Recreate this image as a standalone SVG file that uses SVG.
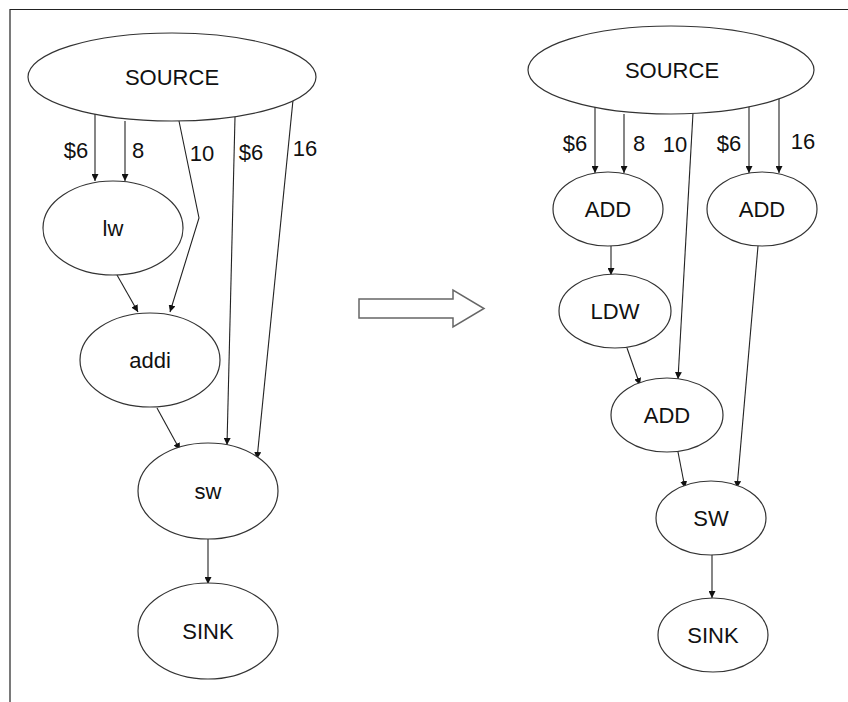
<svg xmlns="http://www.w3.org/2000/svg" width="848" height="702" viewBox="0 0 848 702">
<defs>
<style>
.n ellipse{fill:#fff;stroke:#333;stroke-width:1.2}
text{font-family:"Liberation Sans",Arial,sans-serif;font-size:22px;fill:#111;text-anchor:middle}
.e line,.e polyline{stroke:#222;stroke-width:1.1;fill:none;marker-end:url(#ah)}
</style>
<marker id="ah" viewBox="0 0 10 10" refX="10" refY="5" markerWidth="7" markerHeight="7" markerUnits="userSpaceOnUse" orient="auto"><path d="M0,0 L10,5 L0,10 z" fill="#111"/></marker>
</defs>
<rect width="848" height="702" fill="#fff"/>
<path d="M10,702 V9.5 H848" fill="none" stroke="#222" stroke-width="1.2"/>

<g class="e" id="connectors">
<line x1="95" y1="114" x2="95" y2="181"/>
<line x1="125" y1="121" x2="125" y2="181"/>
<polyline points="179,121 199,218 170,312"/>
<line x1="235" y1="117" x2="227" y2="445"/>
<line x1="293" y1="100" x2="257" y2="459"/>
<line x1="117" y1="275" x2="138" y2="312"/>
<line x1="157" y1="408" x2="180" y2="450"/>
<line x1="208" y1="539" x2="208" y2="584"/>

<line x1="595" y1="106" x2="595" y2="173"/>
<line x1="624" y1="114" x2="624" y2="173"/>
<line x1="693" y1="113" x2="678" y2="379"/>
<line x1="749" y1="106" x2="749" y2="173"/>
<line x1="779" y1="99" x2="779" y2="173"/>
<line x1="611" y1="246" x2="611" y2="275"/>
<line x1="758" y1="246" x2="737" y2="488"/>
<line x1="627" y1="348" x2="640" y2="385"/>
<line x1="678" y1="452" x2="685" y2="488"/>
<line x1="712" y1="554" x2="712" y2="598"/>
</g>

<g id="labels">
<text x="76" y="158">$6</text>
<text x="138" y="158">8</text>
<text x="202" y="161">10</text>
<text x="251" y="160">$6</text>
<text x="305" y="156">16</text>
<text x="575" y="151">$6</text>
<text x="639" y="151">8</text>
<text x="675" y="152">10</text>
<text x="729" y="151">$6</text>
<text x="803" y="149">16</text>
</g>

<g class="n" id="src-l"><ellipse cx="172" cy="77" rx="144" ry="44"/><text x="172" y="85">SOURCE</text></g>
<g class="n" id="lw"><ellipse cx="113" cy="228" rx="70" ry="47"/><text x="113" y="236">lw</text></g>
<g class="n" id="addi"><ellipse cx="150" cy="360" rx="70" ry="47"/><text x="150" y="368">addi</text></g>
<g class="n" id="sw"><ellipse cx="208" cy="491" rx="70" ry="48"/><text x="208" y="499">sw</text></g>
<g class="n" id="sink-l"><ellipse cx="208" cy="631" rx="70" ry="48"/><text x="208" y="639">SINK</text></g>

<g class="n" id="src-r"><ellipse cx="671" cy="70" rx="143" ry="44"/><text x="672" y="78">SOURCE</text></g>
<g class="n" id="add1"><ellipse cx="608" cy="209" rx="55" ry="37"/><text x="608" y="217">ADD</text></g>
<g class="n" id="add2"><ellipse cx="762" cy="209" rx="55" ry="37"/><text x="762" y="217">ADD</text></g>
<g class="n" id="ldw"><ellipse cx="615" cy="311" rx="56" ry="37"/><text x="615" y="319">LDW</text></g>
<g class="n" id="add3"><ellipse cx="667" cy="415" rx="56" ry="37"/><text x="667" y="423">ADD</text></g>
<g class="n" id="sw-r"><ellipse cx="711" cy="518" rx="55" ry="37"/><text x="711" y="526">SW</text></g>
<g class="n" id="sink-r"><ellipse cx="713" cy="635" rx="55" ry="37"/><text x="713" y="643">SINK</text></g>

<g id="transform-arrow"><polygon points="359,299 453,299 453,290 484,308.5 453,327 453,318 359,318" fill="#fff" stroke="#666" stroke-width="1.5"/></g>
</svg>
